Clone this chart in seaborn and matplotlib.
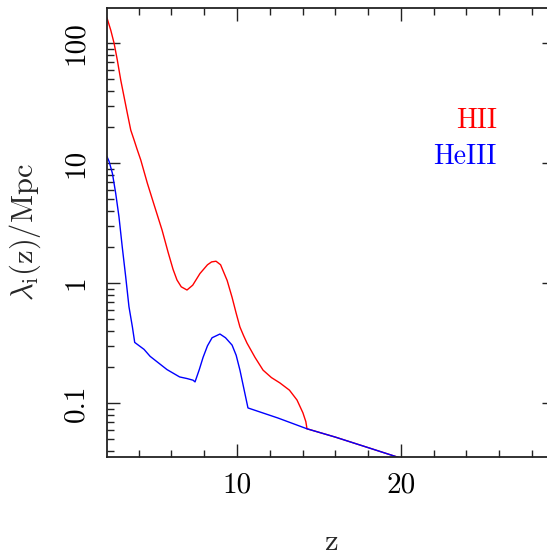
import matplotlib
matplotlib.use("Agg")
import matplotlib.pyplot as plt
import matplotlib.ticker as mticker
import numpy as np
import pandas as pd
import seaborn as sns

# Mean free path of ionising photons versus redshift
z_hii = [2.07, 2.3, 2.5, 2.7, 2.91, 3.11, 3.31, 3.52, 3.72, 3.9, 4.13, 4.53,
         4.94, 5.43, 5.8, 6.1, 6.34, 6.6, 6.95, 7.3, 7.74, 8.2, 8.45, 8.72,
         9.0, 9.4, 9.7, 9.95, 10.18, 10.4, 10.61, 11.1, 11.59, 12.1, 12.62,
         13.2, 13.66, 14.02, 14.2, 14.27, 16.0, 18.0, 20.0, 22.0]
lam_hii = [162, 128, 100, 72, 49, 35.7, 26, 18.8, 15.6, 13.1, 10.6, 6.8,
           4.5, 2.76, 1.8, 1.3, 1.06, 0.93, 0.875, 0.96, 1.2, 1.42, 1.50, 1.52,
           1.42, 1.05, 0.76, 0.56, 0.43, 0.365, 0.316, 0.24, 0.188, 0.163,
           0.147, 0.128, 0.106, 0.083, 0.07, 0.061, 0.052, 0.0425, 0.0347,
           0.029]

z_heiii = [2.07, 2.2, 2.4, 2.6, 2.8, 3.0, 3.21, 3.41, 3.62, 3.76, 4.33, 4.7,
           5.73, 6.5, 6.95, 7.32, 7.44, 7.7, 7.93, 8.2, 8.48, 8.96, 9.3, 9.7,
           9.95, 10.18, 10.67, 12.5, 14.27, 16.0, 18.0, 20.0, 22.0]
lam_heiii = [11.3, 10.3, 8.2, 5.6, 3.57, 2.0, 1.13, 0.635, 0.43, 0.32, 0.28,
             0.245, 0.19, 0.165, 0.16, 0.155, 0.15, 0.19, 0.24, 0.30, 0.35,
             0.376, 0.35, 0.304, 0.25, 0.188, 0.091, 0.075, 0.061, 0.052,
             0.0425, 0.0347, 0.029]

series_names = ["HII", "HeIII"]
series_colors = ["#ff0000", "#0000ff"]

y_ticks = [0.1, 1, 10, 100]
y_ticklabels = ["0.1", "1", "10", "100"]
x_ticks = [10, 20]
x_ticklabels = ["10", "20"]

df_hii = pd.DataFrame({"z": z_hii, "lam": lam_hii})
df_heiii = pd.DataFrame({"z": z_heiii, "lam": lam_heiii})

sns.set_theme(style="ticks")
plt.rcParams["mathtext.fontset"] = "cm"
plt.rcParams["axes.formatter.use_mathtext"] = True

fig = plt.figure(figsize=(5.47, 5.55), dpi=100)
ax = fig.add_axes([107 / 547, 98 / 555, 448 / 547, 449 / 555])

sns.lineplot(data=df_hii, x="z", y="lam", ax=ax, color=series_colors[0],
             lw=1.0, sort=False, estimator=None)
sns.lineplot(data=df_heiii, x="z", y="lam", ax=ax, color=series_colors[1],
             lw=1.0, sort=False, estimator=None)

ax.set_yscale("log")
ax.set_xlim(2.07, 29.4)
ax.set_ylim(0.0355, 196)

ax.xaxis.set_major_locator(mticker.FixedLocator(x_ticks))
ax.xaxis.set_major_formatter(mticker.FixedFormatter(x_ticklabels))
ax.xaxis.set_minor_locator(mticker.MultipleLocator(2))
ax.yaxis.set_major_locator(mticker.FixedLocator(y_ticks))
ax.yaxis.set_major_formatter(mticker.FixedFormatter(y_ticklabels))
ax.yaxis.set_minor_locator(mticker.LogLocator(base=10, subs=np.arange(2, 10)))
ax.yaxis.set_minor_formatter(mticker.NullFormatter())

ax.tick_params(which="both", direction="in", top=True, right=True,
               color="#222222", width=1.0)
ax.tick_params(which="major", length=9.5)
ax.tick_params(which="minor", length=5)
ax.tick_params(axis="x", which="major", pad=11, labelsize=21)
ax.tick_params(axis="y", which="major", pad=13, labelsize=21)
for lab in ax.get_xticklabels() + ax.get_yticklabels():
    lab.set_fontfamily("cmr10")
    lab.set_color("black")
for lab in ax.get_yticklabels():
    lab.set_rotation(90)
    lab.set_verticalalignment("center")

for sp in ax.spines.values():
    sp.set_linewidth(1.3)
    sp.set_color("#222222")

ax.set_xlabel(r"${\rm z}$", fontsize=22, va="baseline")
ax.xaxis.set_label_coords(0.5, -0.207)
ax.set_ylabel(r"$\lambda_{\rm i}({\rm z})/{\rm Mpc}$", fontsize=22, labelpad=14)

ax.text(0.870, 0.733, series_names[0], transform=ax.transAxes, ha="right",
        va="baseline", color=series_colors[0], fontsize=20, family="cmr10")
ax.text(0.870, 0.6526, series_names[1], transform=ax.transAxes, ha="right",
        va="baseline", color=series_colors[1], fontsize=20, family="cmr10")

fig.savefig("out.png", dpi=100)
